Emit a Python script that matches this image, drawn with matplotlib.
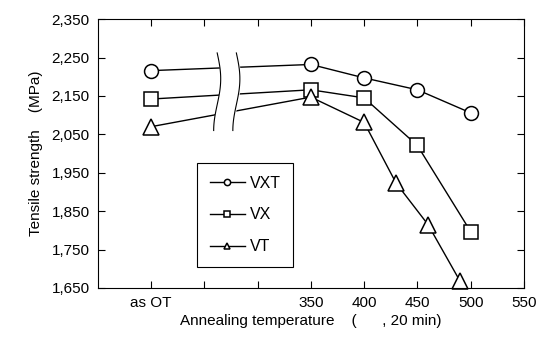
import numpy as np
import matplotlib
matplotlib.use('Agg')
import matplotlib.pyplot as plt

plt.rcParams['font.family'] = ['Liberation Sans', 'DejaVu Sans']

# data ("as OT" sits at x=200)
temp_vxt = [200, 350, 400, 450, 500]
vxt = [2216, 2232, 2197, 2166, 2106]
temp_vx = [200, 350, 400, 450, 500]
vx = [2142, 2166, 2145, 2021, 1797]
temp_vt = [200, 350, 400, 430, 460, 490]
vt = [2070, 2147, 2081, 1923, 1815, 1668]

xticks = [200, 250, 300, 350, 400, 450, 500, 550]
xtick_labels = ['as OT', '', '', '350', '400', '450', '500', '550']
yticks = [1650, 1750, 1850, 1950, 2050, 2150, 2250, 2350]

fig = plt.figure(figsize=(5.44, 3.42), dpi=100)
ax = fig.add_axes([0.18, 0.158, 0.783, 0.786])

style = dict(color='black', lw=1.0, markerfacecolor='white',
             markeredgecolor='black', markeredgewidth=1.1, clip_on=False)
ax.plot(temp_vxt, vxt, marker='o', markersize=10, label='VXT', **style)
ax.plot(temp_vx, vx, marker='s', markersize=10, label='VX', **style)
ax.plot(temp_vt, vt, marker='^', markersize=11, label='VT', **style)

# axis break marks between "as OT" and 350
t = np.linspace(0, 1, 60)
yb = 2262 - t * (2262 - 2060)
wig = 3.3 * np.sin(1.5 * np.pi * t)
xl = 262 + wig
xr = 280 + wig
ax.fill_betweenx(yb, xl, xr, color='white', zorder=3)
ax.plot(xl, yb, color='black', lw=0.8, zorder=4)
ax.plot(xr, yb, color='black', lw=0.8, zorder=4)

ax.set_xlim(150, 550)
ax.set_ylim(1650, 2350)
ax.set_xticks(xticks)
ax.set_xticklabels(xtick_labels)
ax.set_yticks(yticks)
ax.set_yticklabels([f'{v:,}' for v in yticks])
ax.tick_params(direction='in', top=True, right=True, length=5, width=0.8,
               labelsize=11, pad=6)
for s in ax.spines.values():
    s.set_linewidth(0.8)

ax.set_xlabel('Annealing temperature    (      , 20 min)', fontsize=11, labelpad=3)
ax.set_ylabel('Tensile strength    (MPa)', fontsize=11, labelpad=6)

leg = ax.legend(loc='lower left', bbox_to_anchor=(0.232, 0.078), borderaxespad=0,
                fontsize=11.5, markerscale=0.45, handlelength=2.2, labelspacing=1.05,
                handletextpad=0.3, borderpad=0.8, fancybox=False, framealpha=1)
leg.get_frame().set_edgecolor('black')
leg.get_frame().set_linewidth(0.8)

plt.savefig('out.png', dpi=100)
